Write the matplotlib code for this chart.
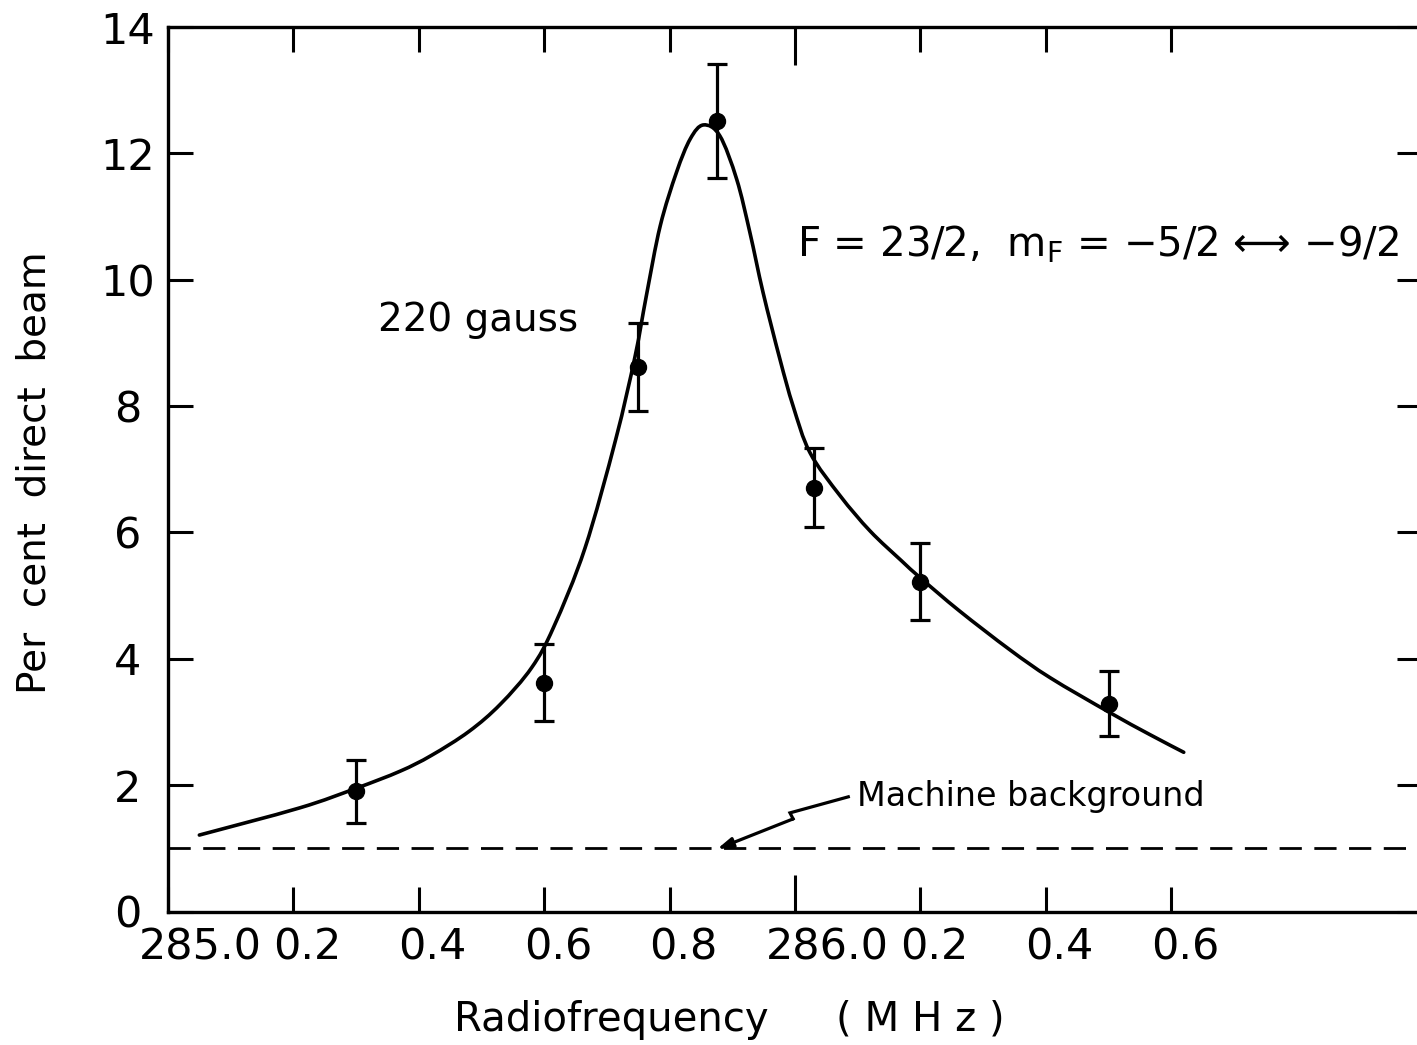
import matplotlib
matplotlib.use("Agg")
import matplotlib.pyplot as plt
import matplotlib.transforms as mtransforms
from matplotlib.path import Path
from matplotlib.patches import PathPatch

# ---- data ----
freq = [285.30, 285.60, 285.75, 285.875, 286.03, 286.20, 286.50]
pct = [1.90, 3.62, 8.62, 12.51, 6.71, 5.22, 3.29]
err = [0.50, 0.61, 0.70, 0.90, 0.62, 0.61, 0.51]

curve_f = [285.05, 285.21, 285.30, 285.37, 285.42, 285.48, 285.53, 285.58,
           285.615, 285.665, 285.714, 285.745, 285.763, 285.785, 285.811,
           285.833, 285.854, 285.880, 285.907, 285.928, 285.949, 285.976,
           285.997, 286.024, 286.072, 286.120, 286.170, 286.200, 286.262,
           286.343, 286.407, 286.500, 286.566, 286.620]
curve_y = [1.21, 1.64, 1.95, 2.22, 2.47, 2.85, 3.28, 3.86,
           4.50, 5.75, 7.47, 8.79, 9.75, 10.85, 11.70,
           12.23, 12.45, 12.28, 11.59, 10.75, 9.80, 8.74,
           8.00, 7.26, 6.58, 6.02, 5.55, 5.28, 4.76,
           4.14, 3.70, 3.16, 2.80, 2.52]

background = 1.0

xticks = [285.0, 285.2, 285.4, 285.6, 285.8, 286.0, 286.2, 286.4, 286.6]
xticklabels = ["285.0", "0.2", "0.4", "0.6", "0.8", "286.0", "0.2", "0.4", "0.6"]
yticks = [0, 2, 4, 6, 8, 10, 12, 14]
yticklabels = ["0", "2", "4", "6", "8", "10", "12", "14"]

plt.rcParams['font.family'] = ['DejaVu Sans']

fig = plt.figure(figsize=(14.17, 10.45), dpi=100)
ax = fig.add_axes([168/1417, (1045-911.5)/1045, (1422-168)/1417, (911.5-27)/1045])
ax.set_xlim(285.0, 287.0)
ax.set_ylim(0, 14)

# fitted curve: smooth Bezier path through the read points (Catmull-Rom tangents)
pts = list(zip(curve_f, curve_y))
verts = [pts[0]]
codes = [Path.MOVETO]
n = len(pts)
for i in range(n - 1):
    p0 = pts[i - 1] if i > 0 else pts[i]
    p1 = pts[i]
    p2 = pts[i + 1]
    p3 = pts[i + 2] if i + 2 < n else pts[i + 1]
    c1 = (p1[0] + (p2[0] - p0[0]) / 6, p1[1] + (p2[1] - p0[1]) / 6)
    c2 = (p2[0] - (p3[0] - p1[0]) / 6, p2[1] - (p3[1] - p1[1]) / 6)
    verts += [c1, c2, p2]
    codes += [Path.CURVE4] * 3
ax.add_patch(PathPatch(Path(verts, codes), fill=False, edgecolor='black',
                       lw=2.6, capstyle='round', joinstyle='round'))

# data points with error bars
ax.errorbar(freq, pct, yerr=err, fmt='o', color='black', ms=11.5,
            elinewidth=2.3, capsize=7, capthick=2.3)

# machine background line
ax.axhline(background, color='black', lw=2.0, linestyle=(0, (8, 4.5)))

# spines
for s in ['left', 'bottom', 'top']:
    ax.spines[s].set_linewidth(2.4)
ax.spines['right'].set_visible(False)

ax.set_xticks(xticks)
ax.set_xticklabels(xticklabels)
ax.set_yticks(yticks)
ax.set_yticklabels(yticklabels)
ax.tick_params(axis='both', direction='in', width=2.2, length=18,
               top=True, right=True, labelsize=31)
ax.tick_params(axis='x', pad=11)
ax.tick_params(axis='y', pad=29)
for lab in ax.get_yticklabels():
    lab.set_horizontalalignment('center')

# longer tick at 286.0
t = ax.xaxis.get_major_ticks()[5]
t.tick1line.set_markersize(27)
t.tick2line.set_markersize(27)

# shift x tick labels slightly to the right, as lettered in the original
for i, lab in enumerate(ax.get_xticklabels()):
    dx = 32 if len(xticklabels[i]) > 3 else 14
    lab.set_transform(lab.get_transform() +
                      mtransforms.ScaledTranslation(dx/100, 0, fig.dpi_scale_trans))

# annotations
ax.text(285.335, 9.37, "220 gauss", fontsize=28, ha='left', va='center')
ax.text(285.0 + (797-168)/627, (911.5-245)/63.1,
        "F = 23/2,  m$_{\\mathregular{F}}$ = \u22125/2 \u27F7 \u22129/2",
        fontsize=29, ha='left', va='center')
ax.text(286.099, 1.815, "Machine background", fontsize=24, ha='left', va='center')
ax.plot([286.085, 285.992, 285.997], [1.815, 1.561, 1.466], color='black',
        lw=2.3, solid_joinstyle='miter')
ax.annotate('', xy=(285.876, 0.99), xytext=(285.997, 1.466),
            arrowprops=dict(arrowstyle='-|>,head_length=0.9,head_width=0.3',
                            lw=2.3, color='black', shrinkA=0, shrinkB=0))

fig.text(35/1417, 1 - 473/1045, "Per  cent  direct  beam", rotation=90,
         fontsize=28, ha='center', va='center')
fig.text(611/1417, 1 - 1020/1045, "Radiofrequency",
         fontsize=29, ha='center', va='center')
fig.text(920/1417, 1 - 1020/1045, "( M H z )",
         fontsize=29, ha='center', va='center')

fig.savefig("out.png", dpi=100)
